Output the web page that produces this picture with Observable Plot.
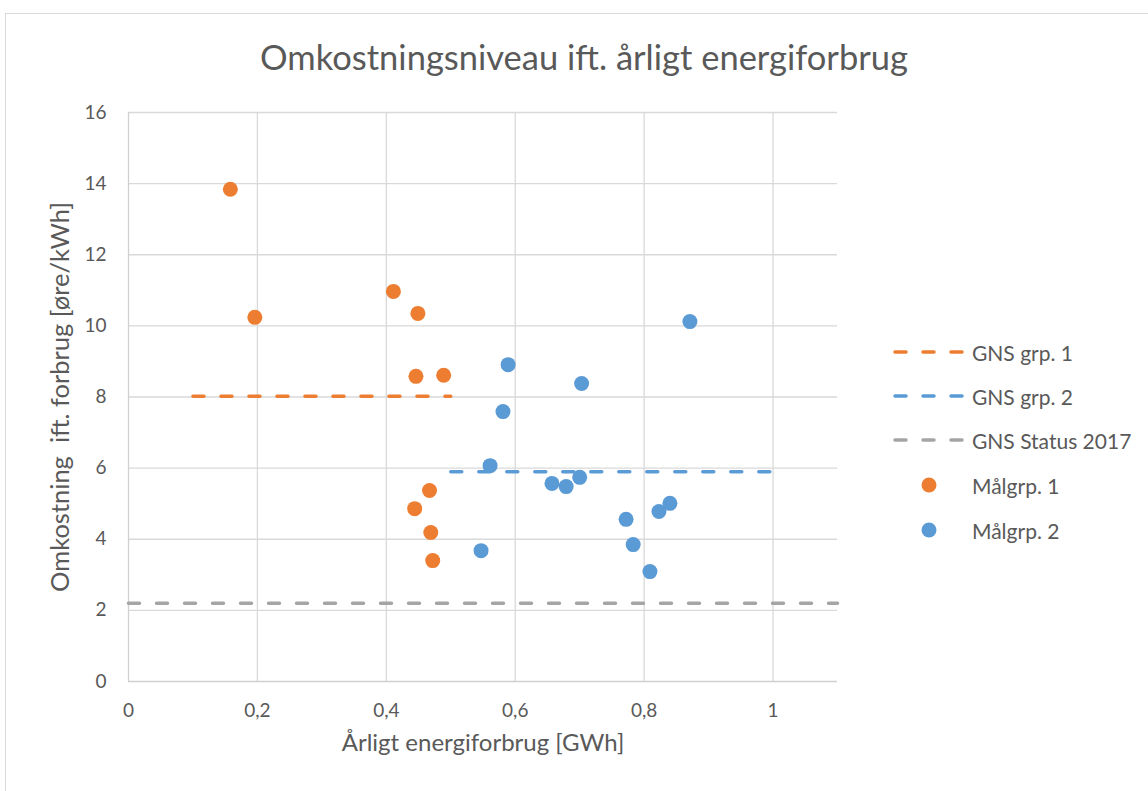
<!DOCTYPE html>
<html>
<head>
<meta charset="utf-8">
<script src="https://cdn.jsdelivr.net/npm/d3@7"></script>
<script src="https://cdn.jsdelivr.net/npm/@observablehq/plot@0.6"></script>
<style>
  body { margin: 0; background: #fff; }
  #wrap { position: relative; width: 1148px; height: 791px; overflow: hidden; font-family: Lato, "Open Sans", sans-serif; color: #595959; }
  #frame { position: absolute; left: 5px; top: 13px; width: 1160px; height: 800px; border: 1px solid #d9d9d9; box-sizing: border-box; }
  #title { position: absolute; left: 0; width: 1168px; top: 36px; text-align: center; font-size: 34.5px; color: #595959; }
  #chart { position: absolute; left: 0; top: 0; }
  #legend { position: absolute; left: 893px; top: 0; font-size: 21px; color: #595959; }
  .item { position: absolute; left: 0; height: 24px; display: flex; align-items: center; white-space: nowrap; }
  .item svg { flex: none; margin-right: 5px; }
</style>
</head>
<body>
<div id="wrap">
  <div id="frame"></div>
  <div id="chart"></div>
  <div id="title">Omkostningsniveau ift. årligt energiforbrug</div>
  <div id="legend"></div>
</div>
<script>
// Målgrp. 1 (orange points)
const grp1X = [0.158, 0.196, 0.411, 0.449, 0.446, 0.489, 0.467, 0.444, 0.469, 0.472];
const grp1Y = [13.84, 10.24, 10.97, 10.35, 8.58, 8.61, 5.37, 4.86, 4.19, 3.40];
// Målgrp. 2 (blue points)
const grp2X = [0.547, 0.561, 0.581, 0.589, 0.657, 0.679, 0.700, 0.703, 0.772, 0.783, 0.809, 0.823, 0.840, 0.871];
const grp2Y = [3.68, 6.07, 7.59, 8.91, 5.57, 5.48, 5.74, 8.38, 4.56, 3.85, 3.09, 4.78, 5.01, 10.12];
// Average lines
const gnsNames = ["GNS grp. 1", "GNS grp. 2", "GNS Status 2017"];
const gnsX1 = [0.1, 0.5, 0];
const gnsX2 = [0.5, 1.0, 1.1];
const gnsY = [8.02, 5.9, 2.2];
const pointNames = ["Målgrp. 1", "Målgrp. 2"];
// Axis ticks and titles
const xTicks = [0, 0.2, 0.4, 0.6, 0.8, 1];
const yTicks = [0, 2, 4, 6, 8, 10, 12, 14, 16];
const xTitle = "Årligt energiforbrug [GWh]";
const yTitle = "Omkostning\u00a0 ift. forbrug [øre/kWh]";

const colors = {"GNS grp. 1": "#ED7D31", "GNS grp. 2": "#5B9BD5", "GNS Status 2017": "#A5A5A5", "Målgrp. 1": "#ED7D31", "Målgrp. 2": "#5B9BD5"};

const lines = gnsNames.map((n, i) => ({name: n, x1: gnsX1[i], x2: gnsX2[i], y: gnsY[i]}));
const pts = [
  ...grp1X.map((x, i) => ({name: pointNames[0], x, y: grp1Y[i]})),
  ...grp2X.map((x, i) => ({name: pointNames[1], x, y: grp2Y[i]}))
];
const fmt = d => String(d).replace(".", ",");

const plot = Plot.plot({
  width: 1148,
  height: 791,
  marginLeft: 128,
  marginRight: 311,
  marginTop: 112,
  marginBottom: 110,
  style: {fontFamily: "Lato, 'Open Sans', sans-serif", fontSize: "19px", color: "#595959", background: "transparent", overflow: "visible"},
  x: {domain: [0, 1.1], ticks: xTicks, tickFormat: fmt, tickSize: 0, tickPadding: 22, label: null},
  y: {domain: [0, 16], ticks: yTicks, tickFormat: fmt, tickSize: 0, tickPadding: 22, label: null},
  marks: [
    Plot.gridX(xTicks.filter(d => d > 0), {stroke: "#d9d9d9", strokeOpacity: 1, strokeWidth: 1.3}),
    Plot.gridY(yTicks.filter(d => d > 0), {stroke: "#d9d9d9", strokeOpacity: 1, strokeWidth: 1.3}),
    Plot.ruleX([0], {stroke: "#d0d0d0", strokeWidth: 1.3}),
    Plot.ruleY([0], {stroke: "#d0d0d0", strokeWidth: 1.3}),
    Plot.link(lines, {x1: "x1", x2: "x2", y1: "y", y2: "y", stroke: d => colors[d.name], strokeWidth: 3.5, strokeDasharray: "11,17", strokeLinecap: "round"}),
    Plot.dot(pts, {x: "x", y: "y", r: 7.5, fill: d => colors[d.name], stroke: "none"}),
    Plot.text([xTitle], {frameAnchor: "bottom", dy: 69, text: d => d, fontSize: 24, fill: "#595959"}),
    Plot.text([yTitle], {frameAnchor: "left", dx: -68, rotate: -90, textAnchor: "middle", text: d => d, fontSize: 25.5, fill: "#595959"})
  ]
});
document.getElementById("chart").appendChild(plot);

// Legend
const legend = document.getElementById("legend");
const legendItems = [...gnsNames.map(n => ({name: n, type: "line"})), ...pointNames.map(n => ({name: n, type: "dot"}))];
const rowY = [352, 396, 440, 485, 530];
legendItems.forEach((it, i) => {
  const div = document.createElement("div");
  div.className = "item";
  div.style.top = (rowY[i] - 12) + "px";
  const c = colors[it.name];
  const sw = it.type === "line"
    ? `<svg width="74" height="24"><line x1="2" x2="72" y1="12" y2="12" stroke="${c}" stroke-width="3.5" stroke-linecap="round" stroke-dasharray="11,17"/></svg>`
    : `<svg width="74" height="24"><circle cx="36" cy="12" r="7.5" fill="${c}"/></svg>`;
  div.innerHTML = sw + `<span>${it.name}</span>`;
  legend.appendChild(div);
});
</script>
</body>
</html>
